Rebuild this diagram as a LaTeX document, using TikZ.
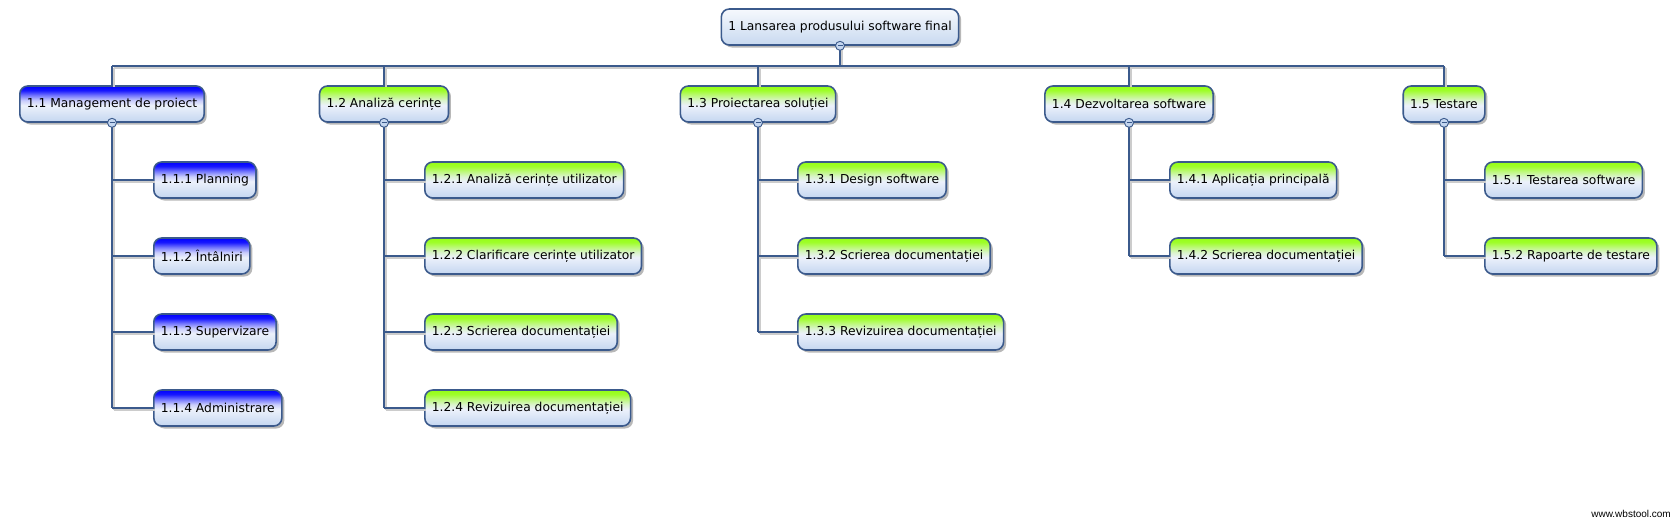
\documentclass[tikz,border=0pt]{standalone}
\usepackage{fontspec}
\setmainfont{DejaVu Sans}
\newfontfamily\wmfont{Liberation Sans}
\usetikzlibrary{shadows}
\definecolor{edgeblue}{RGB}{59,90,140}
\definecolor{lowblue}{RGB}{196,214,240}
\definecolor{midwhite}{RGB}{236,241,251}
\definecolor{topblue}{RGB}{0,0,255}
\definecolor{topgreen}{RGB}{150,255,20}
\definecolor{rootlow}{RGB}{200,217,240}
\definecolor{roottop}{RGB}{246,249,253}
\pgfdeclareverticalshading{blueshade}{100bp}{color(0bp)=(lowblue); color(25bp)=(lowblue);
  color(48bp)=(midwhite); color(55bp)=(topblue!15!midwhite); color(62bp)=(topblue!50!midwhite);
  color(69bp)=(topblue!90!midwhite); color(75bp)=(topblue); color(100bp)=(topblue)}
\pgfdeclareverticalshading{greenshade}{100bp}{color(0bp)=(lowblue); color(25bp)=(lowblue);
  color(48bp)=(midwhite); color(55bp)=(topgreen!20!midwhite); color(62bp)=(topgreen!55!midwhite);
  color(69bp)=(topgreen!90!midwhite); color(75bp)=(topgreen); color(100bp)=(topgreen)}
\newcommand{\wbsconns}{%
  \path[conn] (busL) -- (busR);
  \path[conn] (r.south) -- (r.south |- busL);
  \foreach \n in {a,b,c,d,e} {\path[conn] (\n.north |- busL) -- (\n.north);}
  \foreach \p/\k in {a/a4,b/b4,c/c3,d/d2,e/e2} {\path[conn] (\p.south) -- (\p.south |- \k.west);}
  \foreach \p/\k in {a/a1,a/a2,a/a3,a/a4,b/b1,b/b2,b/b3,b/b4,c/c1,c/c2,c/c3,d/d1,d/d2,e/e1,e/e2}
    {\path[conn] (\p.south |- \k.west) -- (\k.west);}
}
\begin{document}
\begin{tikzpicture}[x=1pt,y=-1pt,
  box/.style={draw=edgeblue, line width=1.6pt, rounded corners=8pt,
    minimum height=36pt, inner xsep=7pt, inner ysep=0pt, text=black,
    font=\fontsize{12.3}{14}\selectfont,
    drop shadow={shadow xshift=2.5pt, shadow yshift=-2.5pt, fill=black, opacity=0.28}},
  rootbox/.style={box, top color=roottop, bottom color=rootlow},
  bluebox/.style={box, shading=blueshade},
  greenbox/.style={box, shading=greenshade},
  mainline/.style={conn/.style={draw=edgeblue, line width=2pt}},
  shadowline/.style={conn/.style={draw=black!20, line width=2pt}},
  collapse/.style={draw=edgeblue, fill=lowblue, line width=0.9pt},
]
\useasboundingbox (0,0) rectangle (1680,522);

% root
\node[rootbox] (r) at (840,27) {1 Lansarea produsului software final};

% level 1
\node[bluebox]  (a) at (112,104)  {1.1 Management de proiect};
\node[greenbox] (b) at (384,104)  {1.2 Analiză cerințe};
\node[greenbox] (c) at (758,104)  {1.3 Proiectarea soluției};
\node[greenbox] (d) at (1129,104) {1.4 Dezvoltarea software};
\node[greenbox] (e) at (1444,104) {1.5 Testare};

% level 2
\node[bluebox, anchor=west] (a1) at (153,180) {1.1.1 Planning};
\node[bluebox, anchor=west] (a2) at (153,256) {1.1.2 Întâlniri};
\node[bluebox, anchor=west] (a3) at (153,332) {1.1.3 Supervizare};
\node[bluebox, anchor=west] (a4) at (153,408) {1.1.4 Administrare};

\node[greenbox, anchor=west] (b1) at (424,180) {1.2.1 Analiză cerințe utilizator};
\node[greenbox, anchor=west] (b2) at (424,256) {1.2.2 Clarificare cerințe utilizator};
\node[greenbox, anchor=west] (b3) at (424,332) {1.2.3 Scrierea documentației};
\node[greenbox, anchor=west] (b4) at (424,408) {1.2.4 Revizuirea documentației};

\node[greenbox, anchor=west] (c1) at (797,180) {1.3.1 Design software};
\node[greenbox, anchor=west] (c2) at (797,256) {1.3.2 Scrierea documentației};
\node[greenbox, anchor=west] (c3) at (797,332) {1.3.3 Revizuirea documentației};

\node[greenbox, anchor=west] (d1) at (1169,180) {1.4.1 Aplicația principală};
\node[greenbox, anchor=west] (d2) at (1169,256) {1.4.2 Scrierea documentației};

\node[greenbox, anchor=west] (e1) at (1484,180) {1.5.1 Testarea software};
\node[greenbox, anchor=west] (e2) at (1484,256) {1.5.2 Rapoarte de testare};

\coordinate (busL) at (112,66);
\coordinate (busR) at (1444,66);

% connector shadows, then connectors
\begin{scope}[shadowline, transform canvas={shift={(1.5pt,-1.5pt)}}]
  \wbsconns
\end{scope}
\begin{scope}[mainline]
  \wbsconns
\end{scope}

% collapse markers
\foreach \n in {r,a,b,c,d,e} {
  \draw[collapse] (\n.south) circle (4.5pt);
  \draw[edgeblue, line width=1.3pt] ([xshift=-2.5pt]\n.south) -- ([xshift=2.5pt]\n.south);
}

% watermark
\node[anchor=east, font=\wmfont\fontsize{10}{12}\selectfont, inner sep=0pt] (wm) at (1671,514) {www.wbstool.com};
\end{tikzpicture}
\end{document}
